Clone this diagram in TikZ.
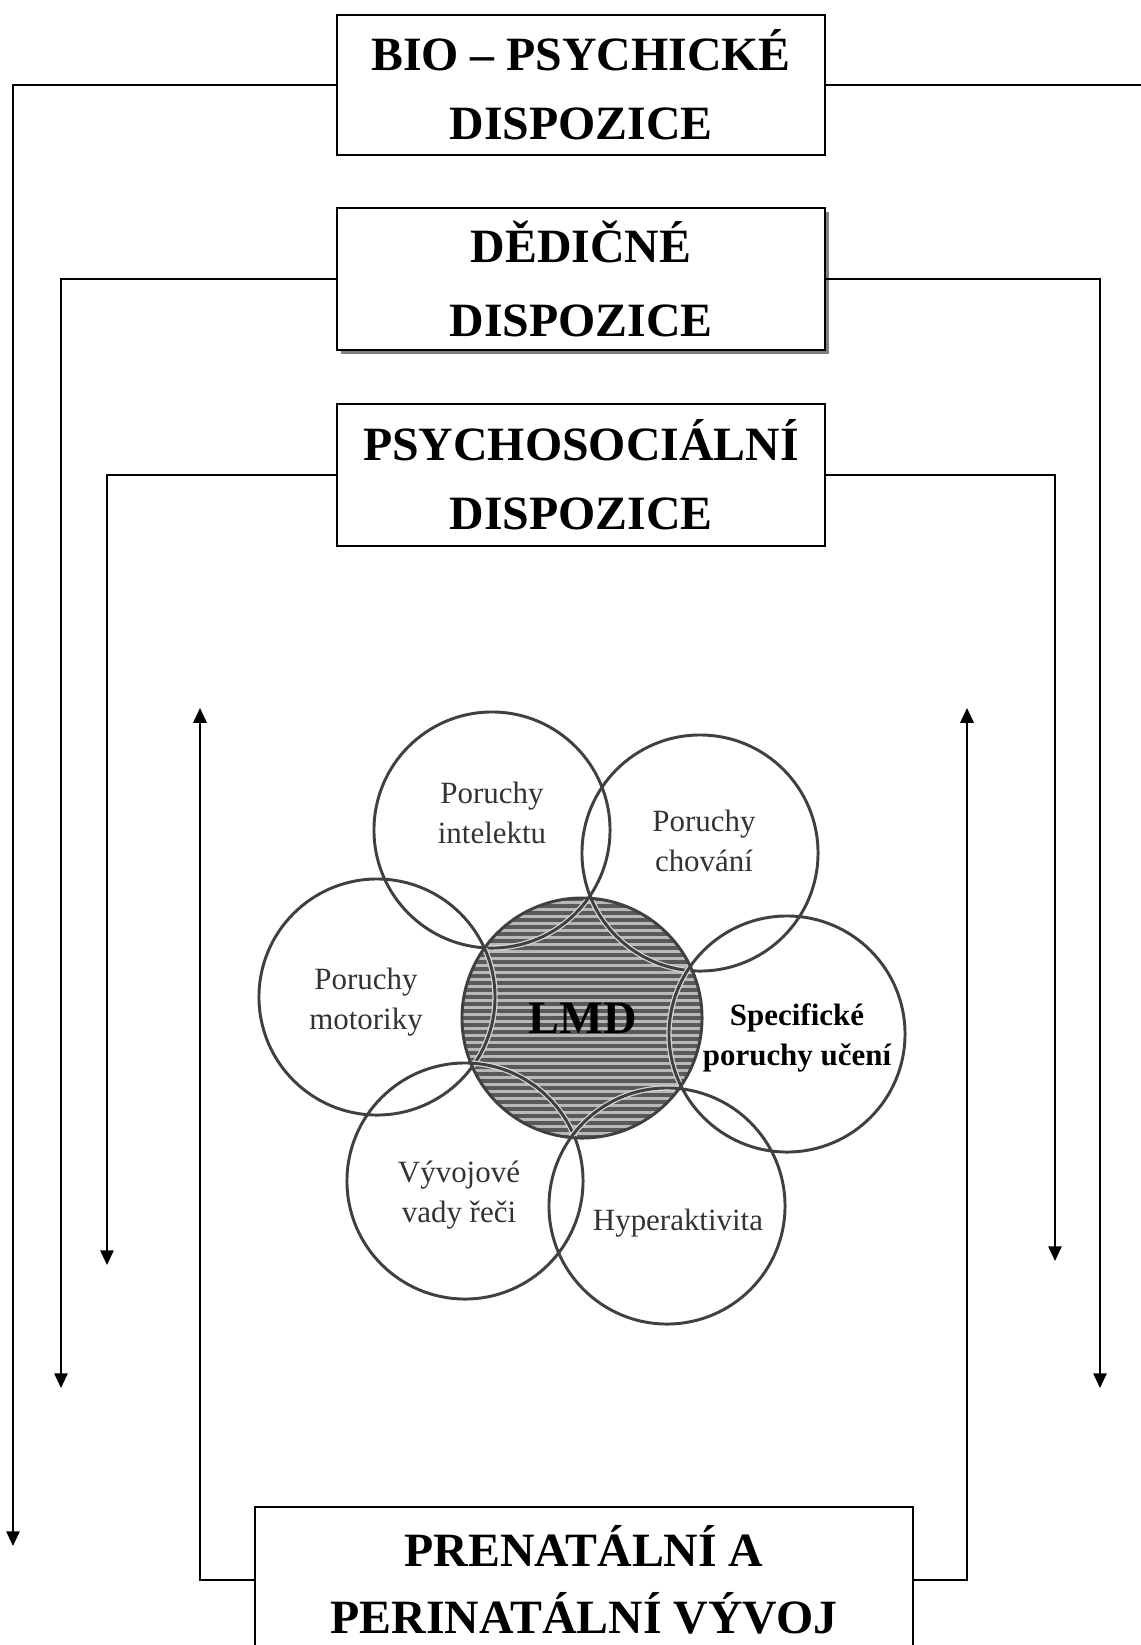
\documentclass[tikz,border=0pt]{standalone}
\usepackage{fontspec}
\setmainfont{Liberation Serif}
\usetikzlibrary{arrows.meta, positioning, shadows}
\tikzset{
  >={Triangle[length=10.5pt, width=9.5pt]}, % solid arrow heads
  box/.style={draw, line width=1.4pt, fill=white, inner sep=0pt, align=center,
    minimum width=12.2cm, minimum height=3.55cm,
    font=\fontsize{34}{49}\selectfont\bfseries}, % the disposition boxes
  ring/.style={circle, draw=black!75, line width=2.1pt, inner sep=0pt,
    minimum size=5.9cm}, % the disorder circles
  ringtext/.style={align=center, text=black!80,
    font=\fontsize{22}{28.5}\selectfont},
  link/.style={line width=1.4pt},
}

\begin{document}
\begin{tikzpicture}[x=0.025cm, y=-0.025cm]
  \useasboundingbox (0,0) rectangle (1141,1645);

  % boxes
  \node[box, minimum height=3.5cm] (bio_box) at (581,85) {BIO – PSYCHICKÉ\\DISPOZICE};
  \node[box, drop shadow={shadow xshift=1mm, shadow yshift=-1mm,
    opacity=1, fill=black!50}, font=\fontsize{34}{53}\selectfont\bfseries]
    (dedic_box) at (581,279) {DĚDIČNÉ\\DISPOZICE};
  \node[box] (psycho_box) at (581,475) {PSYCHOSOCIÁLNÍ\\DISPOZICE};
  \node[box, minimum width=16.45cm, minimum height=3.65cm,
    font=\fontsize{34}{48}\selectfont\bfseries] (peri_box)
    at (584,1580) {PRENATÁLNÍ A\\PERINATÁLNÍ VÝVOJ};

  % ends of the connectors
  \coordinate (bio_tip) at (13,1546);
  \coordinate (bio_end) at (1141,85);
  \coordinate (dedic_tip_l) at (61,1388);
  \coordinate (dedic_tip_r) at (1100,1388);
  \coordinate (psycho_tip_l) at (107,1265);
  \coordinate (psycho_tip_r) at (1055,1261);
  \coordinate (peri_tip_l) at (200,708);
  \coordinate (peri_tip_r) at (967,708);

  \draw[link, ->] (bio_box.west) -| (bio_tip);
  \draw[link] (bio_box.east) -- (bio_end);
  \draw[link, ->] (dedic_box.west) -| (dedic_tip_l);
  \draw[link, ->] (dedic_box.east) -| (dedic_tip_r);
  \draw[link, ->] (psycho_box.west) -| (psycho_tip_l);
  \draw[link, ->] (psycho_box.east) -| (psycho_tip_r);
  \draw[link, ->] (peri_box.west) -| (peri_tip_l);
  \draw[link, ->] (peri_box.east) -| (peri_tip_r);

  % disorders
  \node[ring] (intel) at (492,830) {};
  \node[ring] (chov) at (700,853) {};
  \node[ring] (motor) at (377,997) {};
  \node[ring] (spec) at (787,1034) {};
  \node[ring] (vyvoj) at (465,1181) {};
  \node[ring] (hyper) at (667,1206) {};

  % hatched core, the arcs inside it get a light rim
  \begin{scope}
    \clip (582,1018) circle (3cm);
    \fill[black!28] (455,895) rectangle (710,1141);
    \foreach \yy in {899,906,...,1141}
      \draw[black!65, line width=2.2pt] (455,\yy) -- (710,\yy);
    \foreach \n in {intel,chov,motor,spec,vyvoj,hyper} {
      \draw[white!85!black, line width=3.8pt] (\n) circle (2.95cm);
      \draw[black!75, line width=2.1pt] (\n) circle (2.95cm);
    }
  \end{scope}
  \node[ring, minimum size=6cm] (lmd) at (582,1018) {};
  \node[font=\fontsize{33}{33}\selectfont\bfseries] (lmd_txt) at (583,1018) {LMD};

  \node[ringtext] (intel_txt) at (492,813) {Poruchy\\intelektu};
  \node[ringtext] (chov_txt) at (704,841) {Poruchy\\chování};
  \node[ringtext] (motor_txt) at (366,1002) {Poruchy\\motoriky};
  \node[ringtext, text=black, font=\fontsize{22}{28.5}\selectfont\bfseries]
    (spec_txt) at (797,1038) {Specifické\\poruchy učení};
  \node[ringtext] (vyvoj_txt) at (459,1195) {Vývojové\\vady řeči};
  \node[ringtext] (hyper_txt) at (678,1223) {Hyperaktivita};
\end{tikzpicture}
\end{document}
